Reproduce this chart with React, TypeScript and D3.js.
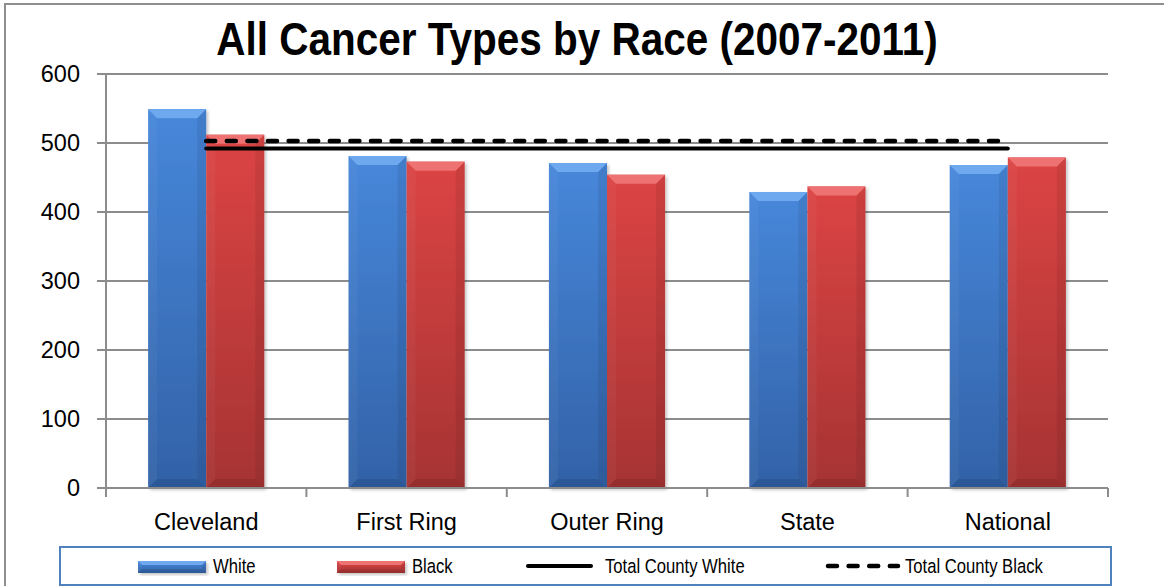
import * as d3 from "d3"

// chart values
const categories = ["Cleveland", "First Ring", "Outer Ring", "State", "National"]
const whiteRates = [549, 481, 471, 429, 468]
const blackRates = [512, 473, 454, 437, 479]
const countyWhite = [492, 492, 492, 492, 492]
const countyBlack = [503, 503, 503, 503, 503]
const yTicks = [0, 100, 200, 300, 400, 500, 600]
const seriesNames = ["White", "Black"]

const W = 1164
const H = 586
const font = "'Liberation Sans', Arial, sans-serif"

const palette: Record<string, { top: string; bottom: string; bevel: string }> = {
  White: { top: "#4787da", bottom: "#3262a7", bevel: "#6ea8ee" },
  Black: { top: "#dc4444", bottom: "#a63333", bevel: "#ee7272" }
}

const BevelBar = ({ x, y, w, h, name, b = 9 }: { x: number; y: number; w: number; h: number; name: string; b?: number }) => {
  const c = palette[name]
  const bb = Math.min(b, h / 2, w / 2)
  return (
    <g filter="url(#shadow)">
      <rect x={x} y={y} width={w} height={h} fill={`url(#grad-${name})`} />
      {/* left edge */}
      <polygon
        points={`${x},${y} ${x + bb},${y + bb} ${x + bb},${y + h - bb} ${x},${y + h}`}
        fill="#ffffff"
        opacity={0.04}
      />
      {/* right edge */}
      <polygon
        points={`${x + w},${y} ${x + w - bb},${y + bb} ${x + w - bb},${y + h - bb} ${x + w},${y + h}`}
        fill="#000000"
        opacity={0.07}
      />
      {/* bottom edge */}
      <polygon
        points={`${x},${y + h} ${x + bb},${y + h - bb} ${x + w - bb},${y + h - bb} ${x + w},${y + h}`}
        fill="#000000"
        opacity={0.1}
      />
      {/* top face */}
      <polygon
        points={`${x},${y} ${x + w},${y} ${x + w - bb},${y + bb} ${x + bb},${y + bb}`}
        fill={c.bevel}
      />
    </g>
  )
}

const App = () => {
  const left = 106
  const right = 1108
  const y = d3.scaleLinear().domain([0, 600]).range([488, 74])

  const x0 = d3.scaleBand<string>().domain(categories).range([left, right]).padding(0)
  const x1 = d3
    .scaleBand<string>()
    .domain(seriesNames)
    .range([0, x0.bandwidth()])
    .paddingInner(0)
    .paddingOuter(0.725)

  const center = (c: string) => (x0(c) ?? 0) + x0.bandwidth() / 2

  const line = d3
    .line<number>()
    .x((_d, i) => center(categories[i]))
    .y(d => y(d))

  const series = [whiteRates, blackRates]

  return (
    <svg
      width={W}
      height={H}
      style={{ position: "absolute", left: 0, top: 0, background: "#fff" }}
      fontFamily={font}
    >
      <defs>
        {seriesNames.map(n => (
          <linearGradient key={n} id={`grad-${n}`} x1="0" y1="0" x2="0" y2="1">
            <stop offset="0%" stopColor={palette[n].top} />
            <stop offset="100%" stopColor={palette[n].bottom} />
          </linearGradient>
        ))}
        <filter id="shadow" x="-10%" y="-10%" width="130%" height="130%">
          <feDropShadow dx="2" dy="2" stdDeviation="1.5" floodColor="#000" floodOpacity="0.22" />
        </filter>
      </defs>

      {/* outer chart border */}
      <rect x={5} y={4} width={1200} height={650} fill="none" stroke="#8e8e8e" strokeWidth={2} />

      {/* title */}
      <text
        transform="translate(577,55) scale(0.9,1.04)"
        textAnchor="middle"
        fontSize={45}
        fontWeight="bold"
        fill="#000"
      >
        All Cancer Types by Race (2007-2011)
      </text>

      {/* gridlines and y ticks */}
      {yTicks.map(t => (
        <g key={t}>
          <line x1={97} x2={t === 0 ? 106 : right} y1={y(t)} y2={y(t)} stroke="#8c8c8c" strokeWidth={2} />
          <text x={80} y={y(t)} dy="0.36em" textAnchor="end" fontSize={23.5} fill="#000">
            {t}
          </text>
        </g>
      ))}

      {/* bars */}
      {categories.map((c, i) => (
        <g key={c}>
          {seriesNames.map((n, s) => {
            const v = series[s][i]
            const bx = (x0(c) ?? 0) + (x1(n) ?? 0)
            return <BevelBar key={n} x={bx} y={y(v)} w={x1.bandwidth()} h={y(0) - y(v)} name={n} />
          })}
        </g>
      ))}

      {/* axes */}
      <line x1={left} x2={left} y1={y(600)} y2={y(0)} stroke="#8c8c8c" strokeWidth={2} />
      <line x1={left} x2={right} y1={y(0)} y2={y(0)} stroke="#8c8c8c" strokeWidth={2} />
      {[...categories.map(c => x0(c) ?? 0), right].map((tx, i) => (
        <line key={i} x1={tx} x2={tx} y1={y(0)} y2={y(0) + 9} stroke="#8c8c8c" strokeWidth={2} />
      ))}
      {categories.map(c => (
        <text key={c} x={center(c)} y={530} textAnchor="middle" fontSize={23.5} fill="#000">
          {c}
        </text>
      ))}

      {/* county total lines */}
      <path d={line(countyWhite) ?? ""} fill="none" stroke="#000" strokeWidth={4} strokeLinecap="round" />
      <path
        d={line(countyBlack) ?? ""}
        fill="none"
        stroke="#000"
        strokeWidth={4.5}
        strokeLinecap="round"
        strokeDasharray="9 11.6"
      />

      {/* legend */}
      <rect x={60} y={547} width={1051} height={38} fill="#fff" stroke="#4f81bd" strokeWidth={2} />
      <BevelBar x={138} y={561} w={68} h={12} name="White" b={4} />
      <text transform="translate(213,573) scale(0.9,1.05)" fontSize={18.5} fill="#000">
        White
      </text>
      <BevelBar x={337} y={561} w={68} h={12} name="Black" b={4} />
      <text transform="translate(412,573) scale(0.9,1.05)" fontSize={18.5} fill="#000">
        Black
      </text>
      <line x1={528} x2={591} y1={566} y2={566} stroke="#000" strokeWidth={4} strokeLinecap="round" />
      <text transform="translate(605,573) scale(0.9,1.05)" fontSize={18.5} fill="#000">
        Total County White
      </text>
      <line
        x1={828}
        x2={898}
        y1={566}
        y2={566}
        stroke="#000"
        strokeWidth={4.5}
        strokeLinecap="round"
        strokeDasharray="9 11.6"
      />
      <text transform="translate(905,573) scale(0.9,1.05)" fontSize={18.5} fill="#000">
        Total County Black
      </text>
    </svg>
  )
}

export default App
